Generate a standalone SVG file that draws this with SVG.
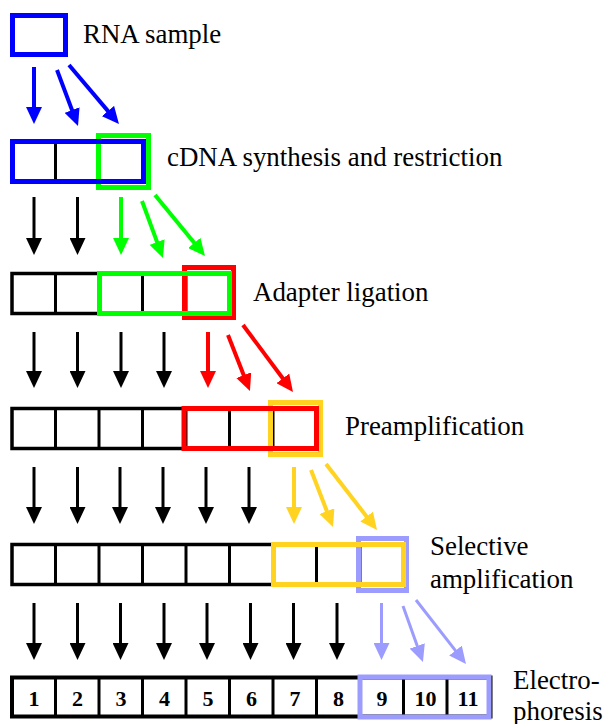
<svg xmlns="http://www.w3.org/2000/svg" width="604" height="724" viewBox="0 0 604 724">
<style>
.lbl{font-family:"Liberation Serif","Times New Roman",serif;font-size:26.9px;fill:#000}
.num{font-family:"Liberation Serif","Times New Roman",serif;font-size:22px;font-weight:bold;fill:#000;text-anchor:middle}
.row{fill:#fff;stroke:#000;stroke-width:3.5}
.div{stroke:#000;stroke-width:3}
.blue{fill:none;stroke:#0000FF;stroke-width:5}
.green{fill:none;stroke:#00FF00;stroke-width:5}
.red{fill:none;stroke:#FF0000;stroke-width:5}
.yellow{fill:none;stroke:#FFD320;stroke-width:5}
.lav{fill:none;stroke:#9C9CFF;stroke-width:5}
.ab{stroke:#000;stroke-width:3;marker-end:url(#hb)}
.abl{stroke:#0000FF;stroke-width:4;marker-end:url(#hbl)}
.ag{stroke:#00FF00;stroke-width:4;marker-end:url(#hg)}
.ar{stroke:#FF0000;stroke-width:4;marker-end:url(#hr)}
.ay{stroke:#FFD320;stroke-width:4;marker-end:url(#hy)}
.al{stroke:#9C9CFF;stroke-width:3;marker-end:url(#hl)}
</style>
<defs>
<marker id="hb" markerUnits="userSpaceOnUse" markerWidth="17" markerHeight="16" viewBox="0 0 17 16" refX="7" refY="8" orient="auto"><path d="M0,0 L17,8 L0,16 z" fill="#000"/></marker>
<marker id="hbl" markerUnits="userSpaceOnUse" markerWidth="17" markerHeight="16" viewBox="0 0 17 16" refX="7" refY="8" orient="auto"><path d="M0,0 L17,8 L0,16 z" fill="#0000FF"/></marker>
<marker id="hg" markerUnits="userSpaceOnUse" markerWidth="17" markerHeight="16" viewBox="0 0 17 16" refX="7" refY="8" orient="auto"><path d="M0,0 L17,8 L0,16 z" fill="#00FF00"/></marker>
<marker id="hr" markerUnits="userSpaceOnUse" markerWidth="17" markerHeight="16" viewBox="0 0 17 16" refX="7" refY="8" orient="auto"><path d="M0,0 L17,8 L0,16 z" fill="#FF0000"/></marker>
<marker id="hy" markerUnits="userSpaceOnUse" markerWidth="17" markerHeight="16" viewBox="0 0 17 16" refX="7" refY="8" orient="auto"><path d="M0,0 L17,8 L0,16 z" fill="#FFD320"/></marker>
<marker id="hl" markerUnits="userSpaceOnUse" markerWidth="17" markerHeight="16" viewBox="0 0 17 16" refX="7" refY="8" orient="auto"><path d="M0,0 L17,8 L0,16 z" fill="#9C9CFF"/></marker>
</defs>
<rect width="604" height="724" fill="#fff"/>

<g id="rna-sample">
<rect class="blue" x="12.5" y="15.5" width="53" height="39" fill="#fff"/>
<text class="lbl" x="83" y="43">RNA sample</text>
</g>

<g id="cdna">
<rect class="row" x="12" y="141.5" width="131" height="40"/>
<line class="div" x1="55.5" y1="141.5" x2="55.5" y2="181.5"/>
<line class="div" x1="99" y1="141.5" x2="99" y2="181.5"/>
<rect class="green" x="98.5" y="135.5" width="50" height="52"/>
<rect class="blue" x="12.5" y="141.5" width="131" height="40"/>
<text class="lbl" x="167" y="166">cDNA synthesis and restriction</text>
</g>

<g id="adapter">
<rect class="row" x="12" y="273.5" width="217.5" height="40"/>
<line class="div" x1="55.5" y1="273.5" x2="55.5" y2="313.5"/>
<line class="div" x1="99" y1="273.5" x2="99" y2="313.5"/>
<line class="div" x1="142.5" y1="273.5" x2="142.5" y2="313.5"/>
<line class="div" x1="186" y1="273.5" x2="186" y2="313.5"/>
<rect class="red" x="184.5" y="267.5" width="49" height="50"/>
<rect class="green" x="99.5" y="273.5" width="130" height="40"/>
<text class="lbl" x="253" y="301">Adapter ligation</text>
</g>

<g id="preamp">
<rect class="row" x="12" y="408.5" width="304.5" height="40"/>
<line class="div" x1="55.5" y1="408.5" x2="55.5" y2="448.5"/>
<line class="div" x1="99" y1="408.5" x2="99" y2="448.5"/>
<line class="div" x1="142.5" y1="408.5" x2="142.5" y2="448.5"/>
<line class="div" x1="186" y1="408.5" x2="186" y2="448.5"/>
<line class="div" x1="229.5" y1="408.5" x2="229.5" y2="448.5"/>
<line class="div" x1="273" y1="408.5" x2="273" y2="448.5"/>
<rect class="yellow" x="270.5" y="402.5" width="50" height="52"/>
<rect class="red" x="184" y="408.5" width="132.5" height="40"/>
<text class="lbl" x="345" y="435">Preamplification</text>
</g>

<g id="selective">
<rect class="row" x="12" y="544.5" width="391.5" height="40"/>
<line class="div" x1="55.5" y1="544.5" x2="55.5" y2="584.5"/>
<line class="div" x1="99" y1="544.5" x2="99" y2="584.5"/>
<line class="div" x1="142.5" y1="544.5" x2="142.5" y2="584.5"/>
<line class="div" x1="186" y1="544.5" x2="186" y2="584.5"/>
<line class="div" x1="229.5" y1="544.5" x2="229.5" y2="584.5"/>
<line class="div" x1="273" y1="544.5" x2="273" y2="584.5"/>
<line class="div" x1="316.5" y1="544.5" x2="316.5" y2="584.5"/>
<line class="div" x1="360" y1="544.5" x2="360" y2="584.5"/>
<rect class="lav" x="358.5" y="538.5" width="48" height="52"/>
<rect class="yellow" x="273.5" y="544.5" width="130" height="40"/>
<text class="lbl" x="430" y="555">Selective</text>
<text class="lbl" x="430" y="588">amplification</text>
</g>

<g id="electrophoresis">
<rect class="row" x="12" y="677.5" width="478.5" height="39" style="stroke-width:4"/>
<line class="div" x1="55.5" y1="677.5" x2="55.5" y2="716.5"/>
<line class="div" x1="99" y1="677.5" x2="99" y2="716.5"/>
<line class="div" x1="142.5" y1="677.5" x2="142.5" y2="716.5"/>
<line class="div" x1="186" y1="677.5" x2="186" y2="716.5"/>
<line class="div" x1="229.5" y1="677.5" x2="229.5" y2="716.5"/>
<line class="div" x1="273" y1="677.5" x2="273" y2="716.5"/>
<line class="div" x1="316.5" y1="677.5" x2="316.5" y2="716.5"/>
<line class="div" x1="360" y1="677.5" x2="360" y2="716.5"/>
<line class="div" x1="403.5" y1="677.5" x2="403.5" y2="716.5"/>
<line class="div" x1="447" y1="677.5" x2="447" y2="716.5"/>
<rect class="lav" x="360" y="677" width="129" height="40"/>
<text class="num" x="34" y="706">1</text>
<text class="num" x="77.5" y="706">2</text>
<text class="num" x="121" y="706">3</text>
<text class="num" x="164.5" y="706">4</text>
<text class="num" x="208" y="706">5</text>
<text class="num" x="251.5" y="706">6</text>
<text class="num" x="295" y="706">7</text>
<text class="num" x="338.5" y="706">8</text>
<text class="num" x="382" y="706">9</text>
<text class="num" x="425.5" y="706">10</text>
<text class="num" x="468" y="706">11</text>
<text class="lbl" x="513" y="689">Electro-</text>
<text class="lbl" x="513" y="720">phoresis</text>
</g>

<g id="connectors">
<line class="abl" x1="34" y1="67" x2="34" y2="114"/>
<line class="abl" x1="57" y1="70" x2="74.5" y2="116.6"/>
<line class="abl" x1="69" y1="65" x2="112.5" y2="116.4"/>

<line class="ab" x1="34" y1="197" x2="34" y2="245"/>
<line class="ab" x1="77.5" y1="197" x2="77.5" y2="245"/>
<line class="ag" x1="121" y1="197" x2="121" y2="245"/>
<line class="ag" x1="142" y1="201" x2="159.5" y2="248.6"/>
<line class="ag" x1="155" y1="195" x2="198.7" y2="248.3"/>

<line class="ab" x1="34" y1="332" x2="34" y2="378"/>
<line class="ab" x1="77.5" y1="332" x2="77.5" y2="378"/>
<line class="ab" x1="121" y1="332" x2="121" y2="378"/>
<line class="ab" x1="164" y1="332" x2="164" y2="378"/>
<line class="ar" x1="208" y1="332" x2="208" y2="378"/>
<line class="ar" x1="228" y1="335" x2="246.3" y2="381.7"/>
<line class="ar" x1="243" y1="325" x2="287" y2="384"/>

<line class="ab" x1="34" y1="467" x2="34" y2="514"/>
<line class="ab" x1="77.5" y1="467" x2="77.5" y2="514"/>
<line class="ab" x1="120" y1="467" x2="120" y2="514"/>
<line class="ab" x1="163" y1="467" x2="163" y2="514"/>
<line class="ab" x1="206" y1="467" x2="206" y2="514"/>
<line class="ab" x1="249" y1="467" x2="249" y2="514"/>
<line class="ay" x1="294" y1="467" x2="294" y2="514"/>
<line class="ay" x1="311" y1="470" x2="329.4" y2="517.7"/>
<line class="ay" x1="326" y1="464" x2="370.9" y2="522.1"/>

<line class="ab" x1="34" y1="603" x2="34" y2="650"/>
<line class="ab" x1="77.5" y1="603" x2="77.5" y2="650"/>
<line class="ab" x1="120.5" y1="603" x2="120.5" y2="650"/>
<line class="ab" x1="164" y1="603" x2="164" y2="650"/>
<line class="ab" x1="207" y1="603" x2="207" y2="650"/>
<line class="ab" x1="250.5" y1="603" x2="250.5" y2="650"/>
<line class="ab" x1="293.5" y1="603" x2="293.5" y2="650"/>
<line class="ab" x1="337" y1="603" x2="337" y2="650"/>
<line class="al" x1="381.5" y1="603" x2="381.5" y2="650"/>
<line class="al" x1="403" y1="606" x2="419.6" y2="652.6"/>
<line class="al" x1="416" y1="600" x2="459.8" y2="656.1"/>
</g>
</svg>
